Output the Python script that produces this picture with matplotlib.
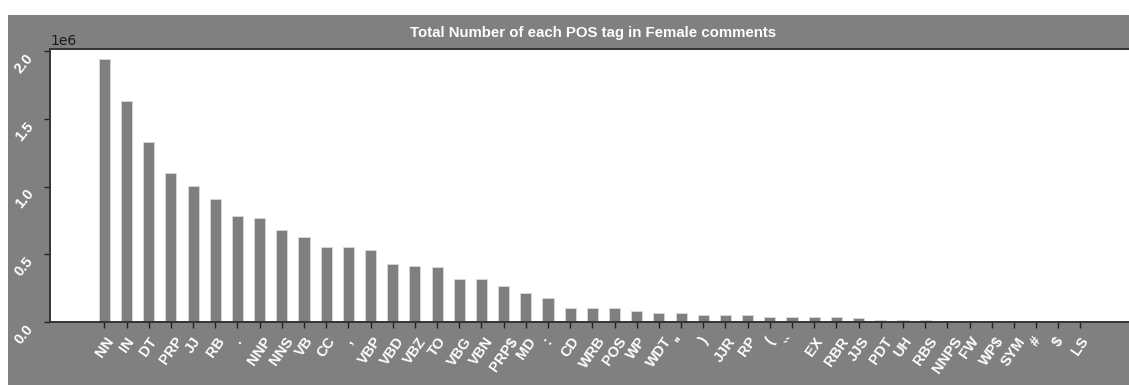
import matplotlib
matplotlib.use("Agg")
import matplotlib.pyplot as plt
from matplotlib.patches import Rectangle

# POS tag counts
tags = ["NN", "IN", "DT", "PRP", "JJ", "RB", ".", "NNP", "NNS", "VB", "CC", ",",
        "VBP", "VBD", "VBZ", "TO", "VBG", "VBN", "PRP$", "MD", ":", "CD", "WRB",
        "POS", "WP", "WDT", "''", ")", "JJR", "RP", "(", "``", "EX", "RBR", "JJS",
        "PDT", "UH", "RBS", "NNPS", "FW", "WP$", "SYM", "#", "$", "LS"]
counts = [1946000, 1635000, 1330000, 1098000, 1006000, 906000, 781000, 769000,
          681000, 632000, 557000, 557000, 531000, 430000, 417000, 404000, 317000,
          317000, 267000, 217000, 180000, 105000, 105000, 105000, 78000, 67000,
          67000, 55000, 55000, 52000, 40000, 38000, 38000, 37000, 26000, 16000,
          15000, 15000, 1500, 1200, 800, 600, 400, 300, 50]

BG = "#808080"
W, H = 1129, 385

fig = plt.figure(figsize=(W / 100, H / 100), dpi=100)
fig.patch.set_facecolor("white")
fig.patches.append(Rectangle((8 / W, 0), 1, 1 - 15 / H, transform=fig.transFigure,
                             facecolor=BG, edgecolor="none", zorder=-10))

ax = fig.add_axes([50 / W, 1 - 322 / H, (1137 - 50) / W, (322 - 49) / H])
ax.set_facecolor("white")

ax.bar(range(len(tags)), counts, width=0.5, color="#7f7f7f",
       edgecolor="#d9d9d9", linewidth=0.6)
ax.set_xlim(-2.45, 46.55)
ax.set_ylim(0, 2.018e6)

ax.set_xticks(range(len(tags)))
ax.set_xticklabels(tags, rotation=55, ha="center", color="white",
                   fontweight="bold", fontsize=10.5, family="Liberation Sans")
ax.set_yticks([0, 0.5e6, 1.0e6, 1.5e6, 2.0e6])
for lbl in ax.get_yticklabels():
    lbl.set_rotation(50)
    lbl.set_color("white")
    lbl.set_fontweight("bold")
    lbl.set_fontsize(10.5)
    lbl.set_va("top")
    lbl.set_family("Liberation Sans")
ax.tick_params(axis="both", direction="out", length=4, width=1, color="#222222")
ax.tick_params(axis="y", pad=6)
ax.tick_params(axis="x", pad=5)
ax.yaxis.get_offset_text().set_color("#1a1a1a")
ax.yaxis.get_offset_text().set_fontsize(10)

for side in ("top", "left", "bottom"):
    ax.spines[side].set_color("#333333")
    ax.spines[side].set_linewidth(1.4)
ax.spines["right"].set_visible(False)

ax.set_title("Total Number of each POS tag in Female comments", color="white",
             fontweight="bold", fontsize=10.8, family="Liberation Sans", pad=9)

fig.savefig("out.png", dpi=100, facecolor=fig.get_facecolor())
